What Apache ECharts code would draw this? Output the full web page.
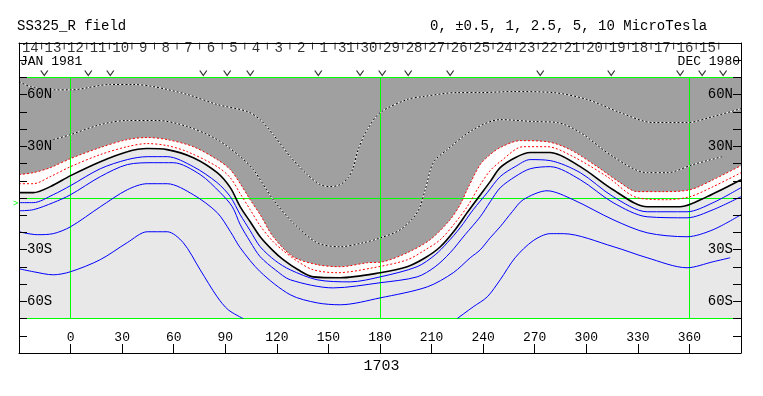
<!DOCTYPE html>
<html><head><meta charset="utf-8">
<script src="https://cdn.jsdelivr.net/npm/echarts@6/dist/echarts.min.js"></script>
<style>html,body{margin:0;padding:0;background:#fff}#c{width:763px;height:396px}</style>
</head><body><div id="c"></div>
<script>
// ---- data (longitude, latitude) ----
const posFive = [[-30,67.6],[-23.4,64.7],[-10.1,62.8],[0,62.8],[23.1,65.9],[36.5,65.9],[48.1,64.7],[67.9,60.1],[85.3,54.3],[102.8,50.2],[110.3,45.5],[117.9,36.8],[127.8,24.0],[137.7,13.6],[145.2,7.8],[151.0,6.6],[156.9,7.8],[161.5,11.8],[164.4,17.6],[167.3,28.1],[172.6,39.7],[180.1,49.6],[195.8,57.2],[205.1,58.9],[224.9,61.2],[238.3,61.2],[257.5,61.8],[280.8,61.2],[300.5,57.2],[319.7,49.6],[338.9,43.8],[358.6,43.8],[373.8,47.3],[390,51.9]];
const posTwoHalf = [[-10.1,33.9],[0,36.8],[17.3,42.6],[33.0,45.0],[50.4,45.0],[67.9,41.5],[85.3,33.9],[98.7,24.0],[106.3,16.5],[117.9,-1.0],[129.5,-14.4],[143.5,-26.0],[156.9,-28.3],[170.2,-26.0],[180.1,-23.2],[191.8,-18.4],[201.6,-8.5],[206.3,4.8],[211.0,20.5],[219.1,28.1],[234.2,39.7],[249.9,45.5],[269.1,44.4],[283.1,43.8],[296.5,38.0],[315.6,24.0],[335.4,14.7],[347.0,14.7],[362.1,19.4],[379.0,24.0]];
const posOne = [[-30,13.6],[-21.7,14.7],[-11.8,17.6],[0,22.9],[17.3,29.3],[33.0,33.9],[44.6,35.1],[56.2,33.9],[71.4,29.8],[85.3,22.3],[92.9,16.5],[98.7,8.3],[104.5,-1.0],[110.3,-9.7],[117.9,-22.5],[129.5,-34.1],[143.5,-38.7],[156.9,-39.9],[172.6,-37.6],[181.9,-37.0],[195.8,-31.8],[209.2,-24.2],[220.8,-12.6],[226.6,-3.9],[230.7,4.8],[238.3,19.4],[244.1,25.2],[249.9,29.3],[261.5,33.3],[277.2,32.7],[290.6,28.1],[306.3,18.2],[319.7,8.9],[329.6,3.7],[344.7,3.7],[360.4,4.8],[373.8,10.6],[390,18.8]];
const posHalf = [[-30,8.3],[-21.7,8.3],[-11.8,12.4],[0,18.2],[17.3,25.2],[33.0,29.8],[44.6,31.6],[56.2,30.4],[67.9,26.9],[85.3,18.2],[92.9,11.8],[98.7,2.5],[104.5,-6.8],[110.3,-16.1],[117.3,-24.8],[123.7,-30.6],[132.4,-37.0],[141.2,-41.7],[155.1,-43.4],[176.0,-40.5],[195.8,-35.9],[206.3,-30.1],[215.1,-24.2],[223.7,-14.4],[230.7,-5.1],[238.3,7.7],[244.1,15.9],[249.9,21.1],[263.3,29.8],[277.2,29.8],[292.4,24.0],[312.1,12.4],[329.6,0.2],[347.0,-1.0],[360.4,0.8],[373.8,6.6],[390,14.7]];
const neutral = [[-30,3.1],[-21.7,3.1],[-11.8,6.6],[0,13.0],[17.3,21.1],[33.0,26.9],[44.6,28.7],[56.2,28.1],[71.4,23.4],[85.3,14.7],[92.9,6.0],[98.7,-5.1],[104.5,-13.8],[110.3,-22.5],[117.3,-30.1],[123.7,-35.8],[132.4,-41.7],[141.2,-45.8],[156.9,-46.3],[180.1,-43.4],[195.8,-39.9],[206.3,-34.7],[215.1,-28.3],[223.7,-18.4],[230.7,-8.5],[237.1,0.2],[244.1,9.5],[249.9,17.6],[258.6,23.4],[267.4,26.4],[279.0,26.4],[296.5,18.2],[315.6,4.8],[335.4,-5.1],[354.6,-5.1],[370.3,0.8],[390,10.6]];
const negHalf = [[-30,-2.7],[-21.7,-2.7],[-10.1,1.9],[0,7.2],[17.3,17.0],[33.0,22.3],[44.6,24.0],[56.2,24.0],[71.4,18.2],[85.3,8.9],[92.9,0.8],[98.7,-9.7],[104.5,-19.0],[110.3,-28.3],[119.1,-36.4],[127.8,-41.7],[143.5,-47.5],[162.7,-48.7],[180.1,-45.8],[201.6,-39.9],[212.1,-33.0],[219.1,-26.0],[226.6,-17.3],[234.2,-6.8],[242.4,3.1],[249.9,12.4],[258.6,18.2],[267.4,22.3],[279.0,21.7],[296.5,14.7],[315.6,0.8],[335.4,-8.0],[358.6,-8.0],[373.8,-2.7],[390,6.0]];
const negOne = [[-30,-7.4],[-21.7,-6.8],[-10.1,-2.7],[0,1.9],[17.3,12.4],[33.0,19.4],[48.1,20.5],[59.7,20.5],[75.4,13.6],[87.1,3.1],[94.1,-5.1],[98.7,-15.5],[104.5,-25.4],[110.3,-34.1],[119.1,-41.7],[127.8,-47.5],[152.8,-52.2],[180.1,-49.2],[201.6,-45.8],[212.1,-39.9],[220.8,-31.8],[229.5,-21.3],[238.3,-10.9],[244.1,-2.2],[249.9,5.9],[258.6,12.4],[267.4,17.0],[279.0,18.2],[296.5,10.6],[315.6,-2.7],[335.4,-10.9],[358.6,-11.5],[373.8,-6.8],[390,0.8]];
const negTwoHalf = [[-30,-19.6],[-19.4,-21.3],[-10.1,-20.7],[0,-16.7],[17.3,-5.1],[33.0,4.8],[44.6,8.3],[56.2,8.3],[71.4,1.9],[85.3,-8.5],[92.9,-19.4],[98.7,-28.9],[110.3,-42.8],[127.8,-56.2],[143.5,-60.9],[156.9,-62.0],[180.1,-58.0],[207.5,-51.6],[222.6,-43.4],[232.5,-34.7],[238.3,-30.1],[244.1,-23.1],[249.9,-16.7],[256.9,-8.0],[263.3,-1.0],[277.2,4.2],[292.4,-1.0],[315.6,-12.6],[335.4,-20.2],[358.6,-22.5],[373.8,-18.4],[390,-9.7]];
const negFiveWest = [[-30,-41.1],[-21.7,-42.8],[-10.1,-44.6],[0,-42.8],[17.3,-35.8],[33.0,-25.9],[44.6,-19.6],[56.2,-19.6],[65.5,-25.9],[75.4,-41.7],[85.3,-57.4],[91.7,-64.9],[100.4,-70]];
const negFiveEast = [[224.9,-70],[234.2,-63.2],[242.4,-57.4],[249.9,-47.5],[258.6,-34.7],[269.1,-24.8],[279.0,-20.7],[286.6,-20.7],[315.6,-28.2],[335.4,-34.7],[358.6,-40.5],[373.8,-37.0],[383.7,-34.7]];

const dayLabels = ['14','13','12','11','10','9','8','7','6','5','4','3','2','1','31','30','29','28','27','26','25','24','23','22','21','20','19','18','17','16','15'];
const dayFirstLon = -23.4;   // longitude of the "14" label
const dayStepLon = 13.13;    // degrees per day
const obsLons = [-15.3,10.3,23.1,77.2,91.1,104.5,144.1,168.4,181.3,196.4,220.8,273.2,314.5,354.6,367.4,379.6];
const lonTickLabels = [0,30,60,90,120,150,180,210,240,270,300,330,360];
const latTickLabels = {'60':'60N','30':'30N','-30':'30S','-60':'60S'};
const plotTopLat = 70, plotBottomLat = -70;

const FONT = '"Liberation Mono", "DejaVu Sans Mono", monospace';
const GRAY = '#a0a0a0', LIGHT = '#e8e8e8', GREEN = '#00ff00';

const dayData = dayLabels.map((d, i) => ({ name: d, value: [dayFirstLon + i * dayStepLon, 86.8] }));
const sepData = dayLabels.map((d, i) => [dayFirstLon + i * dayStepLon + dayStepLon / 2, 88.2]);
const obsData = obsLons.map(l => [l, 72.6]);

function latFmt() {
  return function (v) {
    const t = latTickLabels[String(v)];
    if (!t) return '';
    return '{' + (v > 0 ? 'g' : 'l') + '|' + t + '}';
  };
}
const latRich = {
  g: { backgroundColor: GRAY, color: '#000', fontFamily: FONT, fontSize: 14 },
  l: { backgroundColor: LIGHT, color: '#000', fontFamily: FONT, fontSize: 14 }
};

function contour(data, color, width, type, z) {
  return { type: 'line', data: data, z: z || 6, showSymbol: false, symbol: 'none', smooth: 0.3,
    silent: true, lineStyle: { color: color, width: width, type: type } };
}
function fill(data, color, z, smooth) {
  return { type: 'line', data: data, z: z, showSymbol: false, symbol: 'none', smooth: smooth === undefined ? 0.3 : smooth, silent: true,
    lineStyle: { width: 0, opacity: 0 }, areaStyle: { color: color, opacity: 1, origin: 'end' } };
}
const txt = (s) => Object.assign({ fontFamily: FONT, fontWeight: 'normal', color: '#000', fontSize: 14 }, s || {});

const chart = echarts.init(document.getElementById('c'));
chart.setOption({
  animation: false,
  title: [
    { text: 'SS325_R field', left: 17, top: 19, padding: 0, textStyle: txt() },
    { text: '0, \u00b10.5, 1, 2.5, 5, 10 MicroTesla', left: 430, top: 19, padding: 0, textStyle: txt() },
    { text: 'JAN 1981', left: 20, top: 55, padding: 0, textStyle: txt({ fontSize: 13 }) },
    { text: 'DEC 1980', right: 23, top: 55, padding: 0, textStyle: txt({ fontSize: 13 }) },
    { text: '1703', left: 'center', top: 359, padding: 0, textStyle: txt({ fontSize: 15 }) }
  ],
  graphic: [{ type: 'text', left: 13, top: 199, style: { text: '>', fill: GREEN, font: '9px ' + FONT } }],
  grid: { left: 19, right: 22, top: 43, bottom: 43, containLabel: false },
  xAxis: [
    { type: 'value', position: 'bottom', min: -30, max: 390, interval: 30, z: 10,
      axisLine: { onZero: false, lineStyle: { color: '#000', width: 1 } },
      axisTick: { inside: true, length: 9, lineStyle: { color: '#000' } },
      axisLabel: { inside: true, margin: 9, color: '#000', fontFamily: FONT, fontSize: 13,
        formatter: v => (lonTickLabels.indexOf(v) >= 0 ? String(v) : '') },
      splitLine: { show: false } },
    { type: 'value', position: 'top', min: -30, max: 390, z: 10,
      axisLine: { onZero: false, lineStyle: { color: '#000', width: 1 } },
      axisTick: { show: false }, axisLabel: { show: false }, splitLine: { show: false } }
  ],
  yAxis: [
    { type: 'value', position: 'left', min: -90, max: 90, interval: 10, z: 10,
      axisLine: { onZero: false, lineStyle: { color: '#000', width: 1 } },
      axisTick: { inside: true, length: 8, lineStyle: { color: '#000' } },
      axisLabel: { inside: true, margin: 8, formatter: latFmt(), rich: latRich },
      splitLine: { show: false } },
    { type: 'value', position: 'right', min: -90, max: 90, interval: 10, z: 10,
      axisLine: { onZero: false, lineStyle: { color: '#000', width: 1 } },
      axisTick: { inside: true, length: 8, lineStyle: { color: '#000' } },
      axisLabel: { inside: true, margin: 8, formatter: latFmt(), rich: latRich },
      splitLine: { show: false } }
  ],
  series: [
    // light grey plot background between -70 and +70
    fill([[-30, plotBottomLat], [390, plotBottomLat]], LIGHT, 1, false),
    // white band above the neutral line
    fill(neutral, '#ffffff', 2),
    // grey positive-polarity region above the +1 contour
    fill(posOne, GRAY, 3),
    // white box above the plot (day-label strip)
    fill([[-30, plotTopLat], [390, plotTopLat]], '#ffffff', 4, false),
    { type: 'line', data: [], z: 5, silent: true,
      markLine: { silent: true, symbol: ['none', 'none'], label: { show: false },
        lineStyle: { color: GREEN, type: 'solid', width: 1 },
        data: [
          [{ coord: [0, -70] }, { coord: [0, 70] }],
          [{ coord: [180, -70] }, { coord: [180, 70] }],
          [{ coord: [360, -70] }, { coord: [360, 70] }],
          [{ coord: [-30, 0] }, { coord: [390, 0] }],
          [{ coord: [-30, 70] }, { coord: [390, 70] }],
          [{ coord: [-30, -70] }, { coord: [390, -70] }]
        ] } },
    contour(posFive, '#ffffff', 1, 'solid'),
    contour(posFive, '#000000', 1, [2, 2], 7),
    contour(posTwoHalf, '#ffffff', 1, 'solid'),
    contour(posTwoHalf, '#000000', 1, [2, 2], 7),
    contour(posOne, '#ff0000', 1, [2, 2]),
    contour(posHalf, '#ff0000', 1, [2, 2]),
    contour(neutral, '#000000', 1.6, 'solid'),
    contour(negHalf, '#0000ff', 1, 'solid'),
    contour(negOne, '#0000ff', 1, 'solid'),
    contour(negTwoHalf, '#0000ff', 1, 'solid'),
    contour(negFiveWest, '#0000ff', 1, 'solid'),
    contour(negFiveEast, '#0000ff', 1, 'solid'),
    { type: 'scatter', data: dayData, z: 8, silent: true, symbolSize: 1,
      itemStyle: { color: 'rgba(0,0,0,0)' },
      label: { show: true, position: 'inside', formatter: '{b}', color: '#000', fontFamily: FONT, fontSize: 14 } },
    { type: 'scatter', data: sepData, z: 8, silent: true, symbol: 'rect', symbolSize: [1, 7],
      itemStyle: { color: '#000' } },
    { type: 'scatter', data: obsData, z: 8, silent: true, symbol: 'path://M0,0L5,8L10,0', symbolSize: [7, 5],
      itemStyle: { color: 'rgba(0,0,0,0)', borderColor: '#000', borderWidth: 1 } }
  ]
});
</script>
</body></html>
